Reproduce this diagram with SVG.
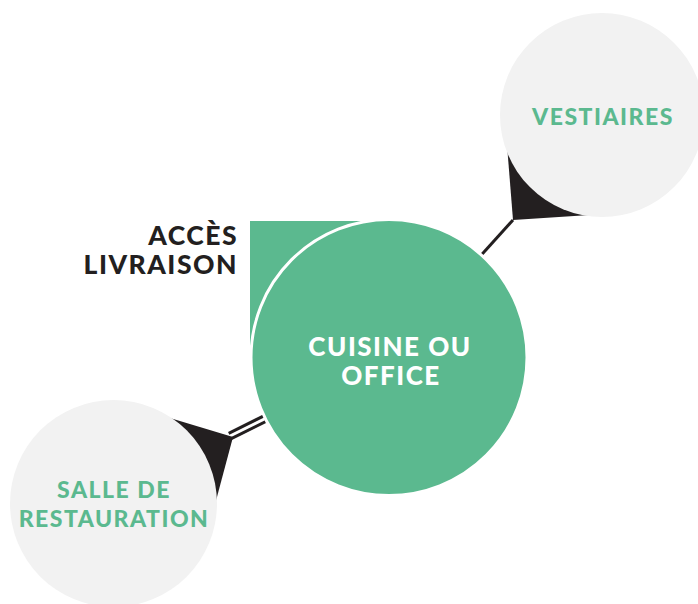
<svg xmlns="http://www.w3.org/2000/svg" width="698" height="604" viewBox="0 0 698 604">
<style>
.lbl{font-family:Lato,"Liberation Sans",sans-serif;font-weight:900;font-size:23px;letter-spacing:1.5px;text-anchor:middle}
.big{font-size:26px}
.green{fill:#5bb98f}
.white{fill:#ffffff}
.dark{fill:#231f20}
.grey{fill:#f2f2f2}
.ln{stroke:#231f20;stroke-width:3;fill:none}
</style>
<rect width="698" height="604" fill="#ffffff"/>
<g id="connectors">
<line class="ln" x1="513" y1="220" x2="389" y2="357"/>
<polygon class="dark" points="513,220 505,120 620,213"/>
<line class="ln" x1="228.7" y1="433.3" x2="387.7" y2="354.3"/>
<line class="ln" x1="231.3" y1="438.7" x2="390.3" y2="359.7"/>
<polygon class="dark" points="233,437 140,409 205.5,540"/>
</g>
<g id="vestiaires">
<circle class="grey" cx="602" cy="115" r="102"/>
<text class="lbl green" x="603" y="125">VESTIAIRES</text>
</g>
<g id="salle">
<circle class="grey" cx="113.5" cy="503.5" r="103.5"/>
<text class="lbl green" x="114" y="498">SALLE DE</text>
<text class="lbl green" x="114" y="527">RESTAURATION</text>
</g>
<g id="acces">
<rect class="green" x="250" y="221" width="139" height="136"/>
<text class="lbl big dark" style="text-anchor:end;font-size:26.5px" x="238" y="245">ACCÈS</text>
<text class="lbl big dark" style="text-anchor:end;font-size:26.5px" x="238" y="274">LIVRAISON</text>
</g>
<g id="cuisine">
<circle class="green" cx="389" cy="357.5" r="138" stroke="#ffffff" stroke-width="3"/>
<text class="lbl big white" x="390" y="356">CUISINE OU</text>
<text class="lbl big white" x="391" y="385">OFFICE</text>
</g>
</svg>
